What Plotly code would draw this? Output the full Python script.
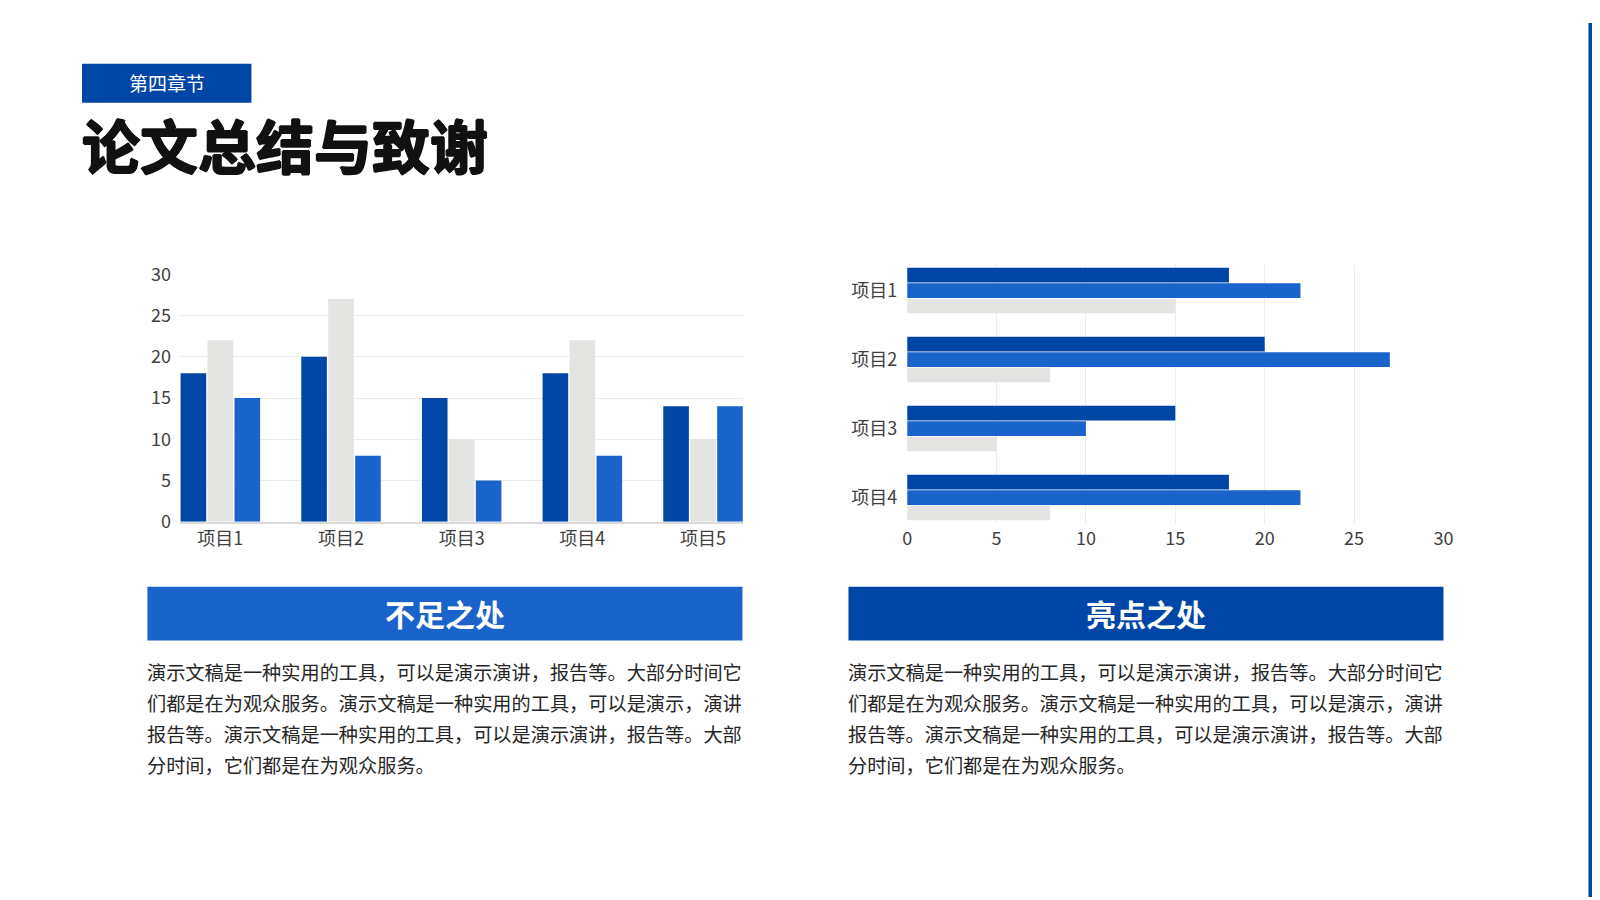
import plotly.graph_objects as go

# ---- data ----
col_cats = ["项目1", "项目2", "项目3", "项目4", "项目5"]
col_dark = [18, 20, 15, 18, 14]
col_gray = [22, 27, 10, 22, 10]
col_blue = [15, 8, 5, 8, 14]

bar_cats = ["项目1", "项目2", "项目3", "项目4"]
bar_dark = [18, 20, 15, 18]
bar_blue = [22, 27, 10, 22]
bar_gray = [15, 8, 5, 8]

tag_text = "第四章节"
title_text = "论文总结与致谢"
left_head = "不足之处"
right_head = "亮点之处"
body_lines = [
    "演示文稿是一种实用的工具，可以是演示演讲，报告等。大部分时间它",
    "们都是在为观众服务。演示文稿是一种实用的工具，可以是演示，演讲",
    "报告等。演示文稿是一种实用的工具，可以是演示演讲，报告等。大部",
    "分时间，它们都是在为观众服务。",
]

DARK = "#0046A6"
BLUE = "#1A63CB"
GRAY = "#E4E4E3"
FONT = "Noto Sans CJK SC"
W, H = 1600, 900


# page pixel -> paper fraction (small correction for how the page gets shot)
def px(x):
    return (1.0095 * x - 12.7) / W


def py(y):
    return 1 - (1.0278 * y - 21.8) / H


fig = go.Figure()

# left column chart
for name, vals, c in [("系列1", col_dark, DARK), ("系列2", col_gray, GRAY), ("系列3", col_blue, BLUE)]:
    fig.add_trace(go.Bar(x=col_cats, y=vals, name=name, marker_color=c,
                         marker_line_width=0, xaxis="x", yaxis="y"))

# right horizontal bar chart
for name, vals, c in [("系列1", bar_dark, DARK), ("系列2", bar_blue, BLUE), ("系列3", bar_gray, GRAY)]:
    fig.add_trace(go.Bar(y=bar_cats, x=vals, name=name, orientation="h", marker_color=c,
                         marker_line_width=0, xaxis="x2", yaxis="y2"))

tick_font = dict(family=FONT, size=18, color="#404040")

fig.update_layout(
    width=W, height=H,
    margin=dict(l=0, r=0, t=0, b=0),
    paper_bgcolor="white", plot_bgcolor="white",
    showlegend=False,
    barmode="group", bargap=0.33, bargroupgap=0.05,
    font=dict(family=FONT),
    xaxis=dict(domain=[px(179.5), px(743)], range=[-0.335, 4.335], showgrid=False,
               showline=True, linecolor="#D9D9D9", linewidth=1.5, ticks="",
               tickfont=tick_font, ticklabelstandoff=0, fixedrange=True),
    yaxis=dict(domain=[py(521), py(273)], range=[0, 30], dtick=5, showgrid=True,
               gridcolor="#ECECEC", gridwidth=1, zeroline=False, showline=False,
               tickfont=tick_font, ticklabelstandoff=8, fixedrange=True),
    xaxis2=dict(domain=[px(906.7), px(1443)], range=[0, 30], dtick=5, showgrid=True,
                gridcolor="#ECECEC", gridwidth=1, zeroline=False, showline=False,
                tickfont=tick_font, ticklabelstandoff=3, anchor="y2", fixedrange=True),
    yaxis2=dict(domain=[py(522), py(264)], range=[3.366, -0.366], showgrid=False,
                showline=False, zeroline=False, ticks="", tickfont=tick_font,
                ticklabelstandoff=9, anchor="x2", fixedrange=True),
)

# shapes: section tag, heading boxes, right edge stripe
shapes = [
    dict(x0=81.6, x1=251, y0=62, y1=101, color=DARK),
    dict(x0=147, x1=742, y0=586, y1=640, color=BLUE),
    dict(x0=848, x1=1443, y0=586, y1=640, color=DARK),
]
for s in shapes:
    fig.add_shape(type="rect", xref="paper", yref="paper",
                  x0=px(s["x0"]), x1=px(s["x1"]), y0=py(s["y1"]), y1=py(s["y0"]),
                  fillcolor=s["color"], line_width=0, layer="below")
fig.add_shape(type="rect", xref="paper", yref="paper", x0=px(1588), x1=1.0, y0=0, y1=1,
              fillcolor=DARK, line_width=0, layer="below")


def label(txt, x, y, size, color, xanchor="center", weight="normal", shadow="none"):
    fig.add_annotation(text=txt, x=px(x), y=py(y), xref="paper", yref="paper",
                       xanchor=xanchor, yanchor="middle", showarrow=False,
                       font=dict(family=FONT, size=size, color=color, weight=weight, shadow=shadow))


label(tag_text, 166.3, 80.5, 19, "white")
label(title_text, 80, 142, 58, "#111111", xanchor="left", weight="bold",
      shadow="1px 0 0 #111, -1px 0 0 #111, 0 1px 0 #111, 0 -1px 0 #111")
label(left_head, 444.5, 612, 30, "white", weight="bold")
label(right_head, 1145.5, 612, 30, "white", weight="bold")

line_y = [671, 702.5, 734, 765]
for x_left in [145, 846]:
    for txt, yy in zip(body_lines, line_y):
        label(txt, x_left, yy, 19.2, "#262626", xanchor="left")

fig.write_html("out.html")
